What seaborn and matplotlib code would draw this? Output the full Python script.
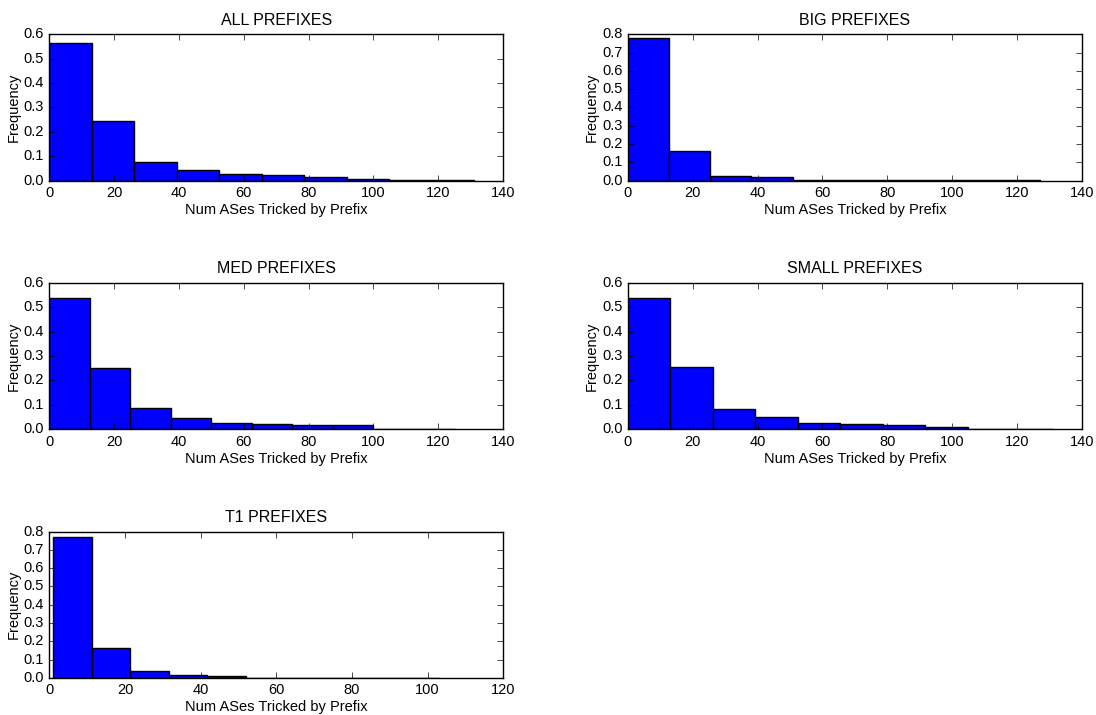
import numpy as np
import pandas as pd
import matplotlib
matplotlib.use("Agg")
import matplotlib.pyplot as plt
import seaborn as sns

# 패널별 값: 제목, 구간 범위, 구간별 비율
titles = ["ALL PREFIXES", "BIG PREFIXES", "MED PREFIXES", "SMALL PREFIXES", "T1 PREFIXES"]

all_range = (0, 131)
all_freq = [0.563, 0.243, 0.077, 0.042, 0.025, 0.021, 0.014, 0.007, 0.003, 0.003]

big_range = (0, 127)
big_freq = [0.778, 0.163, 0.027, 0.018, 0.004, 0.003, 0.002, 0.002, 0.002, 0.001]

med_range = (0, 125)
med_freq = [0.538, 0.253, 0.088, 0.045, 0.027, 0.021, 0.016, 0.016, 0.001, 0.001]

small_range = (0, 131)
small_freq = [0.538, 0.257, 0.084, 0.051, 0.027, 0.023, 0.018, 0.010, 0.002, 0.001]

t1_range = (1, 103)
t1_freq = [0.769, 0.164, 0.038, 0.015, 0.009, 0.001, 0.001, 0.001, 0.001, 0.001]

x_limits = [140, 140, 140, 140, 120]
y_limits = [0.6, 0.8, 0.6, 0.6, 0.8]

panels = [
    (all_range, all_freq),
    (big_range, big_freq),
    (med_range, med_freq),
    (small_range, small_freq),
    (t1_range, t1_freq),
]

plt.style.use("classic")
plt.rcParams["font.family"] = ["Liberation Sans", "DejaVu Sans"]
plt.rcParams["font.size"] = 10.5
plt.rcParams["axes.titlesize"] = 11.5

fig, axes = plt.subplots(3, 2, figsize=(10.96, 7.15), dpi=100)
fig.patch.set_facecolor("white")
fig.subplots_adjust(left=0.045, right=0.987, top=0.952, bottom=0.052,
                    wspace=0.275, hspace=0.70)

for i, ((lo, hi), freq) in enumerate(panels):
    ax = axes.flat[i]
    edges = np.linspace(lo, hi, len(freq) + 1)
    mids = (edges[:-1] + edges[1:]) / 2
    df = pd.DataFrame({"x": mids, "w": freq})
    sns.histplot(data=df, x="x", weights="w", bins=len(freq), binrange=(lo, hi),
                 color="blue", edgecolor="black", linewidth=1, alpha=1, ax=ax)
    ax.set_xlim(0, x_limits[i])
    ax.set_ylim(0, y_limits[i])
    ax.set_yticks(np.arange(0, y_limits[i] + 0.01, 0.1))
    ax.set_title(titles[i], pad=7)
    ax.set_xlabel("Num ASes Tricked by Prefix", labelpad=2)
    ax.set_ylabel("Frequency", labelpad=2)

axes.flat[5].set_visible(False)

fig.savefig("out.png", dpi=100, facecolor="white")
